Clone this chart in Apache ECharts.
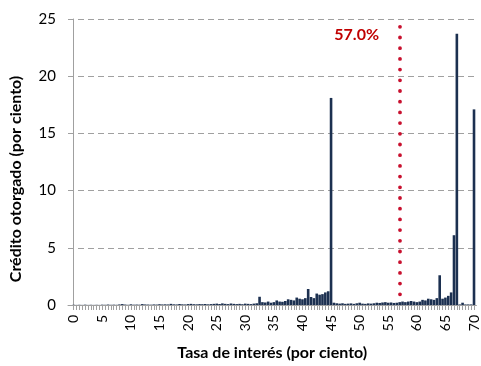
<!DOCTYPE html>
<html>
<head>
<meta charset="utf-8">
<script src="https://cdn.jsdelivr.net/npm/echarts@6/dist/echarts.min.js"></script>
<style>
  html, body { margin: 0; padding: 0; background: #fff; }
  #chart { width: 481px; height: 366px; }
</style>
</head>
<body>
<div id="chart"></div>
<script>
// Interest rate buckets (per cent), every half point from 0 to 70
const rates = [
  0, 0.5, 1, 1.5, 2, 2.5, 3, 3.5, 4, 4.5, 5, 5.5, 6, 6.5, 7, 7.5, 8, 8.5, 9, 9.5,
  10, 10.5, 11, 11.5, 12, 12.5, 13, 13.5, 14, 14.5, 15, 15.5, 16, 16.5, 17, 17.5, 18, 18.5, 19, 19.5,
  20, 20.5, 21, 21.5, 22, 22.5, 23, 23.5, 24, 24.5, 25, 25.5, 26, 26.5, 27, 27.5, 28, 28.5, 29, 29.5,
  30, 30.5, 31, 31.5, 32, 32.5, 33, 33.5, 34, 34.5, 35, 35.5, 36, 36.5, 37, 37.5, 38, 38.5, 39, 39.5,
  40, 40.5, 41, 41.5, 42, 42.5, 43, 43.5, 44, 44.5, 45, 45.5, 46, 46.5, 47, 47.5, 48, 48.5, 49, 49.5,
  50, 50.5, 51, 51.5, 52, 52.5, 53, 53.5, 54, 54.5, 55, 55.5, 56, 56.5, 57, 57.5, 58, 58.5, 59, 59.5,
  60, 60.5, 61, 61.5, 62, 62.5, 63, 63.5, 64, 64.5, 65, 65.5, 66, 66.5, 67, 67.5, 68, 68.5, 69, 69.5,
  70
];

// Share of credit granted at each rate (per cent)
const credit = [
  0.02, 0.01, 0.02, 0.01, 0.03, 0.01, 0.02, 0.01, 0.02, 0.01, 0.03, 0.02, 0.04, 0.02, 0.03, 0.02, 0.05, 0.08, 0.04, 0.02,
  0.06, 0.03, 0.04, 0.03, 0.08, 0.05, 0.04, 0.03, 0.05, 0.04, 0.07, 0.05, 0.06, 0.05, 0.10, 0.06, 0.05, 0.09, 0.06, 0.05,
  0.08, 0.10, 0.07, 0.06, 0.08, 0.07, 0.09, 0.06, 0.08, 0.10, 0.12, 0.09, 0.14, 0.10, 0.08, 0.13, 0.10, 0.08, 0.10, 0.07,
  0.12, 0.10, 0.08, 0.12, 0.15, 0.72, 0.25, 0.22, 0.30, 0.20, 0.25, 0.40, 0.30, 0.28, 0.35, 0.50, 0.45, 0.40, 0.65, 0.55,
  0.50, 0.60, 1.40, 0.70, 0.60, 1.00, 0.90, 0.95, 1.10, 1.20, 18.1, 0.20, 0.15, 0.12, 0.15, 0.10, 0.12, 0.14, 0.10, 0.15,
  0.20, 0.12, 0.10, 0.14, 0.12, 0.15, 0.20, 0.18, 0.22, 0.25, 0.20, 0.22, 0.18, 0.20, 0.25, 0.30, 0.25, 0.30, 0.35, 0.30,
  0.25, 0.30, 0.45, 0.40, 0.55, 0.50, 0.45, 0.60, 2.60, 0.55, 0.65, 0.80, 1.10, 6.10, 23.7, 0.05, 0.20, 0.05, 0.05, 0.05,
  17.1
];

// Labelled rates on the horizontal axis
const rateLabels = [0, 5, 10, 15, 20, 25, 30, 35, 40, 45, 50, 55, 60, 65, 70];

// Reference rate marked with the dotted line
const thresholdRate = 57.0;
const thresholdTop = 24.32;

const font = 'Lato, "Open Sans", sans-serif';
const chart = echarts.init(document.getElementById('chart'), null, { renderer: 'canvas' });

chart.setOption({
  animation: false,
  backgroundColor: '#ffffff',
  grid: { left: 66, right: 2, top: 19, bottom: 60 },
  xAxis: {
    type: 'value',
    min: -1.0,
    max: 70.43,
    name: 'Tasa de interés (por ciento)',
    nameLocation: 'middle',
    nameGap: 40,
    nameTextStyle: { fontFamily: font, fontSize: 16, fontWeight: 'bold', color: '#000' },
    axisLine: { show: true, lineStyle: { color: '#a0a0a0', width: 1 } },
    axisTick: { show: true, length: 5, lineStyle: { color: '#a0a0a0' }, customValues: rates },
    axisLabel: {
      customValues: rateLabels,
      rotate: 90,
      margin: 10,
      fontFamily: font,
      fontSize: 14,
      color: '#000'
    },
    splitLine: { show: false }
  },
  yAxis: {
    type: 'value',
    min: 0,
    max: 25,
    interval: 5,
    name: 'Crédito otorgado (por ciento)',
    nameLocation: 'middle',
    nameGap: 44,
    nameTextStyle: {
      fontFamily: font, fontSize: 16, fontWeight: 'bold', color: '#000',
      padding: [0, 34, 0, 0]
    },
    axisLine: { show: true, lineStyle: { color: '#a0a0a0', width: 1 } },
    axisTick: { show: true, length: 5, lineStyle: { color: '#a0a0a0' } },
    axisLabel: { fontFamily: font, fontSize: 15, color: '#000', margin: 12 },
    splitLine: { show: true, lineStyle: { color: '#a0a0a0', type: [6, 4], width: 1 } }
  },
  series: [{
    type: 'bar',
    data: rates.map((r, i) => [r, credit[i]]),
    barWidth: 2.6,
    itemStyle: { color: '#1c3050' },
    markLine: {
      silent: true,
      symbol: 'none',
      label: { show: false },
      lineStyle: { color: '#c8102e', width: 3.8, type: [0.001, 10.7], cap: 'round' },
      // drawn from the top down so the dot pattern starts at the upper end
      data: [[{ coord: [thresholdRate, thresholdTop] }, { coord: [thresholdRate, 0] }]]
    },
    markPoint: {
      silent: true,
      symbol: 'circle',
      symbolSize: 0,
      label: {
        show: true,
        position: 'inside',
        offset: [-43, 8],
        formatter: thresholdRate.toFixed(1) + '%',
        fontFamily: font,
        fontSize: 16,
        fontWeight: 'bold',
        color: '#c00000'
      },
      data: [{ coord: [thresholdRate, thresholdTop] }]
    }
  }]
});
</script>
</body>
</html>
